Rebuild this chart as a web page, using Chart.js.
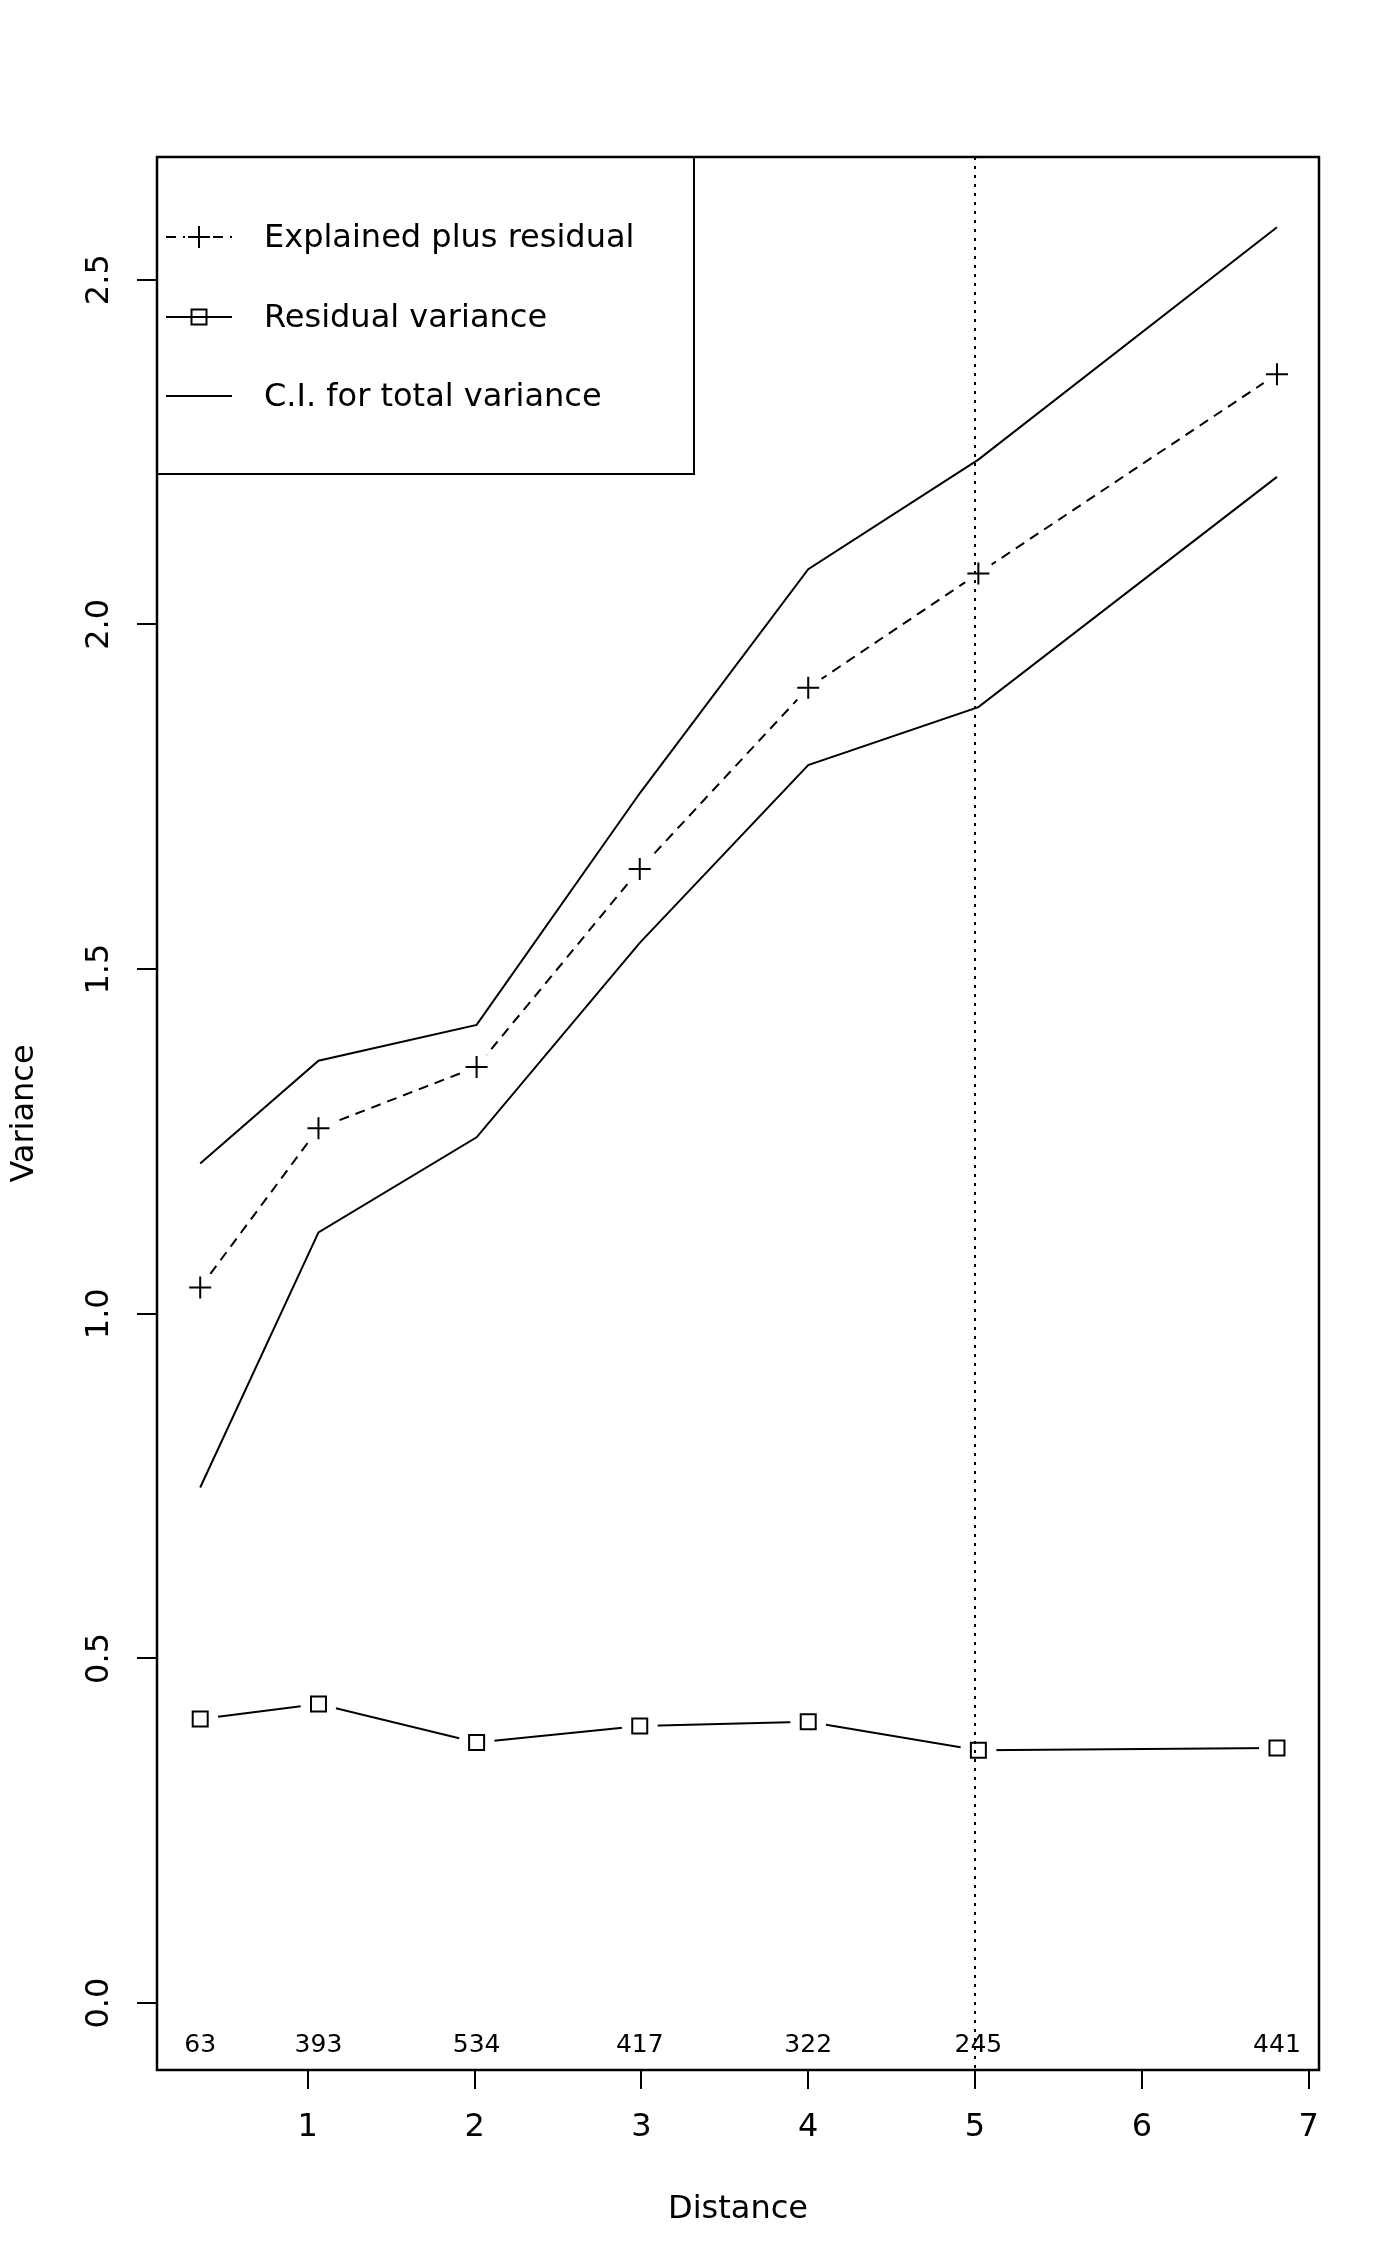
<!DOCTYPE html>
<html lang="en">
<head>
    <meta charset="UTF-8">
    <title>Variance by distance</title>
    <script src="https://cdn.jsdelivr.net/npm/chart.js"></script>
    <style>
        body {
            margin: 0;
            padding: 0;
            background: #fff;
        }

        .chart-box {
            width: 1400px;
            height: 2266px;
        }
    </style>
</head>
<body>

    <div class="chart-box">
        <canvas id="varChart" width="1400" height="2266"></canvas>
    </div>

    <script>
        // values
        const distance = [0.355, 1.064, 2.012, 2.99, 4.0, 5.02, 6.81];
        const explainedPlusResidual = [1.038, 1.269, 1.358, 1.645, 1.908, 2.074, 2.363];
        const residualVariance = [0.412, 0.434, 0.378, 0.402, 0.408, 0.367, 0.370];
        const ciUpper = [1.218, 1.367, 1.419, 1.755, 2.080, 2.239, 2.576];
        const ciLower = [0.748, 1.118, 1.256, 1.538, 1.796, 1.880, 2.214];
        const pairCounts = [63, 393, 534, 417, 322, 245, 441];
        const xTicks = [1, 2, 3, 4, 5, 6, 7];
        const yTicks = [0, 0.5, 1, 1.5, 2, 2.5];
        const markDistance = 5;

        const FONT = '"DejaVu Sans", "Liberation Sans", sans-serif';
        const pts = ys => distance.map((x, i) => ({ x: x, y: ys[i] }));

        // extra drawing in R style: box, tick labels on y, titles, counts, legend
        const rStyle = {
            id: 'rStyle',
            afterDatasetsDraw(chart) {
                const ctx = chart.ctx;
                const a = chart.chartArea;
                const xs = chart.scales.x;
                const ys = chart.scales.y;
                ctx.save();
                ctx.fillStyle = '#000';
                ctx.strokeStyle = '#000';

                // vertical dotted line
                ctx.lineWidth = 2;
                ctx.setLineDash([3, 6]);
                const vx = xs.getPixelForValue(markDistance);
                ctx.beginPath();
                ctx.moveTo(vx, a.top);
                ctx.lineTo(vx, a.bottom);
                ctx.stroke();
                ctx.setLineDash([]);

                // plot box
                ctx.lineWidth = 2.5;
                ctx.strokeRect(a.left, a.top, a.right - a.left, a.bottom - a.top);

                // counts under each point
                ctx.font = '25px ' + FONT;
                ctx.textAlign = 'center';
                ctx.textBaseline = 'middle';
                const cy = ys.getPixelForValue(-0.062);
                pairCounts.forEach((n, i) => {
                    ctx.fillText(String(n), xs.getPixelForValue(distance[i]), cy);
                });

                // y tick labels, parallel to the axis
                ctx.font = '32px ' + FONT;
                yTicks.forEach(v => {
                    ctx.save();
                    ctx.translate(100, ys.getPixelForValue(v));
                    ctx.rotate(-Math.PI / 2);
                    ctx.fillText(v.toFixed(1), 0, 0);
                    ctx.restore();
                });

                // axis titles
                ctx.fillText('Distance', (a.left + a.right) / 2, 2210);
                ctx.save();
                ctx.translate(25, (a.top + a.bottom) / 2);
                ctx.rotate(-Math.PI / 2);
                ctx.fillText('Variance', 0, 0);
                ctx.restore();

                // legend
                const lx = a.left, ly = a.top;
                ctx.lineWidth = 2;
                ctx.strokeRect(lx, ly, 537, 317);
                const rows = [237, 317, 396];
                const x0 = 166, x1 = 232, xm = 199;
                ctx.textAlign = 'left';

                ctx.setLineDash([10, 7]);
                ctx.beginPath();
                ctx.moveTo(x0, rows[0]);
                ctx.lineTo(xm - 14, rows[0]);
                ctx.moveTo(xm + 14, rows[0]);
                ctx.lineTo(x1, rows[0]);
                ctx.stroke();
                ctx.setLineDash([]);
                ctx.beginPath();
                ctx.moveTo(xm - 11, rows[0]);
                ctx.lineTo(xm + 11, rows[0]);
                ctx.moveTo(xm, rows[0] - 11);
                ctx.lineTo(xm, rows[0] + 11);
                ctx.stroke();

                ctx.beginPath();
                ctx.moveTo(x0, rows[1]);
                ctx.lineTo(x1, rows[1]);
                ctx.stroke();
                ctx.strokeRect(xm - 7.5, rows[1] - 7.5, 15, 15);

                ctx.beginPath();
                ctx.moveTo(x0, rows[2]);
                ctx.lineTo(x1, rows[2]);
                ctx.stroke();

                ctx.fillText('Explained plus residual', 264, rows[0] + 2);
                ctx.fillText('Residual variance', 264, rows[1] + 2);
                ctx.fillText('C.I. for total variance', 264, rows[2] + 2);

                ctx.restore();
            }
        };

        new Chart(document.getElementById('varChart'), {
            type: 'scatter',
            data: {
                datasets: [
                    // confidence band
                    { data: pts(ciUpper), showLine: true, borderColor: '#000', borderWidth: 2, pointRadius: 0, order: 5 },
                    { data: pts(ciLower), showLine: true, borderColor: '#000', borderWidth: 2, pointRadius: 0, order: 5 },
                    // connecting lines
                    { data: pts(explainedPlusResidual), showLine: true, borderColor: '#000', borderWidth: 2, borderDash: [10, 7], pointRadius: 0, order: 4 },
                    { data: pts(residualVariance), showLine: true, borderColor: '#000', borderWidth: 2, pointRadius: 0, order: 4 },
                    // white gaps round the symbols (type = "b")
                    { data: pts(explainedPlusResidual), showLine: false, pointStyle: 'circle', pointRadius: 16, pointBackgroundColor: '#fff', pointBorderWidth: 0, order: 2 },
                    { data: pts(residualVariance), showLine: false, pointStyle: 'circle', pointRadius: 18, pointBackgroundColor: '#fff', pointBorderWidth: 0, order: 2 },
                    // symbols
                    { data: pts(explainedPlusResidual), showLine: false, pointStyle: 'cross', pointRadius: 11, pointBorderColor: '#000', pointBorderWidth: 2, order: 1 },
                    { data: pts(residualVariance), showLine: false, pointStyle: 'rect', pointRadius: 10.6, pointBorderColor: '#000', pointBackgroundColor: '#fff', pointBorderWidth: 2, order: 1 }
                ]
            },
            options: {
                responsive: false,
                animation: false,
                devicePixelRatio: 1,
                layout: { padding: { left: 0, right: 81, top: 157, bottom: 0 } },
                plugins: {
                    legend: { display: false },
                    tooltip: { enabled: false }
                },
                scales: {
                    x: {
                        type: 'linear',
                        min: 0.096,
                        max: 7.062,
                        afterBuildTicks: s => { s.ticks = xTicks.map(v => ({ value: v })); },
                        afterFit: s => { s.height = 196; },
                        border: { display: false },
                        grid: { drawOnChartArea: false, drawTicks: true, tickLength: 19, color: '#000', lineWidth: 2 },
                        ticks: {
                            color: '#000',
                            padding: 19,
                            maxRotation: 0,
                            font: { family: FONT, size: 32 },
                            callback: v => String(v)
                        }
                    },
                    y: {
                        type: 'linear',
                        min: -0.097,
                        max: 2.678,
                        afterBuildTicks: s => { s.ticks = yTicks.map(v => ({ value: v })); },
                        afterFit: s => { s.width = 157; },
                        border: { display: false },
                        grid: { drawOnChartArea: false, drawTicks: true, tickLength: 20, color: '#000', lineWidth: 2 },
                        ticks: { display: false }
                    }
                }
            },
            plugins: [rStyle]
        });
    </script>

</body>
</html>
